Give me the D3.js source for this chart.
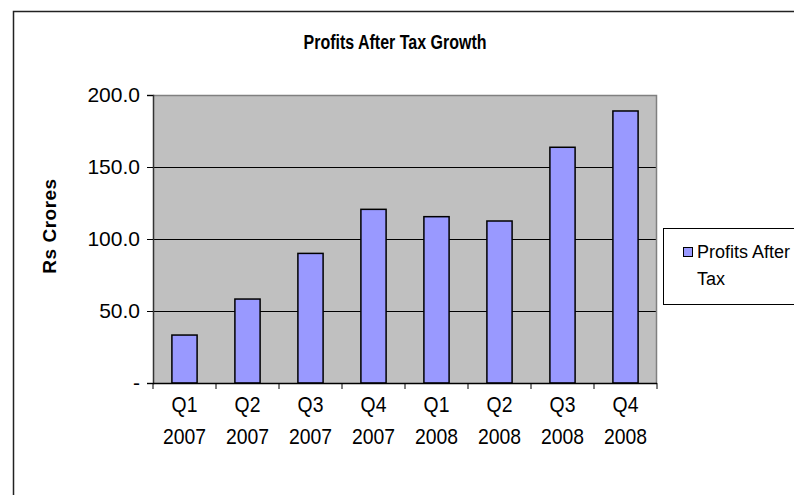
<!DOCTYPE html>
<html>
<head>
<meta charset="utf-8">
<script src="https://cdn.jsdelivr.net/npm/d3@7/dist/d3.min.js"></script>
<style>
  html, body { margin: 0; padding: 0; background: #fff; }
  svg { display: block; }
</style>
</head>
<body>
<svg id="chart" width="794" height="495"></svg>
<script>
// Quarterly profits after tax, Rs crores
const quarters = ["Q1", "Q2", "Q3", "Q4", "Q1", "Q2", "Q3", "Q4"];
const years = ["2007", "2007", "2007", "2007", "2008", "2008", "2008", "2008"];
const profits = [33.3, 58.3, 90.0, 120.6, 115.5, 112.5, 163.7, 188.9];
const yTicks = [0, 50, 100, 150, 200];
const yTickLabels = ["-", "50.0", "100.0", "150.0", "200.0"];
const seriesName = ["Profits After", "Tax"];
const chartTitle = "Profits After Tax Growth";
const yTitle = "Rs Crores";

const svg = d3.select("#chart");
const font = "'Liberation Sans', Arial, sans-serif";

// outer chart frame (runs off the right and bottom edges)
svg.append("rect")
  .attr("x", 13.5).attr("y", 11.5)
  .attr("width", 820).attr("height", 520)
  .attr("fill", "#fff").attr("stroke", "#222").attr("stroke-width", 1.5);

const plot = { left: 153, top: 95, right: 657, bottom: 383 };
const idx = d3.range(profits.length);

const x = d3.scaleBand().domain(idx).range([plot.left, plot.right]).paddingInner(0.6).paddingOuter(0.3);
const xCat = d3.scaleBand().domain(idx).range([plot.left, plot.right]);
const y = d3.scaleLinear().domain([0, 200]).range([plot.bottom, plot.top]);

// plot background
svg.append("rect")
  .attr("x", plot.left).attr("y", plot.top)
  .attr("width", plot.right - plot.left).attr("height", plot.bottom - plot.top)
  .attr("fill", "#c0c0c0");

// horizontal gridlines
svg.append("g").selectAll("line").data(yTicks.filter(t => t > 0 && t < 200)).join("line")
  .attr("x1", plot.left).attr("x2", plot.right)
  .attr("y1", d => Math.round(y(d)) + 0.5).attr("y2", d => Math.round(y(d)) + 0.5)
  .attr("stroke", "#000").attr("stroke-width", 1);

// plot border top / right
svg.append("path")
  .attr("d", `M${plot.left},${plot.top + 0.5}H${plot.right - 0.5}V${plot.bottom}`)
  .attr("fill", "none").attr("stroke", "#808080").attr("stroke-width", 1.5);

// bars
svg.append("g").selectAll("rect").data(profits).join("rect")
  .attr("x", (d, i) => x(i))
  .attr("y", d => y(d))
  .attr("width", x.bandwidth())
  .attr("height", d => plot.bottom - y(d))
  .attr("fill", "#9999ff")
  .attr("stroke", "#000").attr("stroke-width", 1.5);

// y axis
const yAxis = d3.axisLeft(y).tickValues(yTicks)
  .tickFormat((d, i) => yTickLabels[i]).tickSize(6).tickPadding(7);
const gy = svg.append("g").attr("transform", `translate(${plot.left},0)`).call(yAxis);
gy.select(".domain").attr("stroke", "#333").attr("stroke-width", 1.5);
gy.selectAll(".tick line").attr("stroke", "#000");
gy.selectAll(".tick text").attr("font-family", font).attr("font-size", 21).attr("fill", "#000");

// x axis with ticks at category boundaries
const gx = svg.append("g").attr("transform", `translate(0,${plot.bottom})`);
gx.append("line").attr("x1", plot.left).attr("x2", plot.right)
  .attr("y1", 0.5).attr("y2", 0.5).attr("stroke", "#000").attr("stroke-width", 1.5);
gx.selectAll("line.tk").data(d3.range(profits.length + 1)).join("line")
  .attr("class", "tk")
  .attr("x1", d => plot.left + d * xCat.step()).attr("x2", d => plot.left + d * xCat.step())
  .attr("y1", 0).attr("y2", 6).attr("stroke", "#000");
// category labels: slightly condensed two-line text
const xl = gx.selectAll("g.lbl").data(idx).join("g")
  .attr("class", "lbl")
  .attr("transform", i => `translate(${xCat(i) + xCat.bandwidth() / 2},0) scale(0.88,1)`);
xl.append("text").attr("y", 29).attr("text-anchor", "middle")
  .attr("font-family", font).attr("font-size", 22).attr("fill", "#000").text(i => quarters[i]);
xl.append("text").attr("y", 61).attr("text-anchor", "middle")
  .attr("font-family", font).attr("font-size", 22).attr("fill", "#000").text(i => years[i]);

// title
svg.append("text")
  .attr("transform", "translate(395,49) scale(0.82,1)")
  .attr("text-anchor", "middle")
  .attr("font-family", font).attr("font-weight", "bold").attr("font-size", 19.5)
  .text(chartTitle);

// y axis title
svg.append("text")
  .attr("transform", "translate(56,226) rotate(-90)")
  .attr("text-anchor", "middle")
  .attr("font-family", font).attr("font-weight", "bold").attr("font-size", 19)
  .attr("letter-spacing", 0.5)
  .text(yTitle);

// legend
const lg = svg.append("g");
lg.append("rect").attr("x", 663.5).attr("y", 228.5).attr("width", 160).attr("height", 76)
  .attr("fill", "#fff").attr("stroke", "#000").attr("stroke-width", 1);
lg.append("rect").attr("x", 683.5).attr("y", 247.5).attr("width", 9).attr("height", 9)
  .attr("fill", "#9999ff").attr("stroke", "#000").attr("stroke-width", 1);
const lt = lg.append("text").attr("font-family", font).attr("font-size", 18).attr("fill", "#000");
lt.append("tspan").attr("x", 697).attr("y", 258).text(seriesName[0]);
lt.append("tspan").attr("x", 697).attr("y", 285).text(seriesName[1]);
</script>
</body>
</html>
